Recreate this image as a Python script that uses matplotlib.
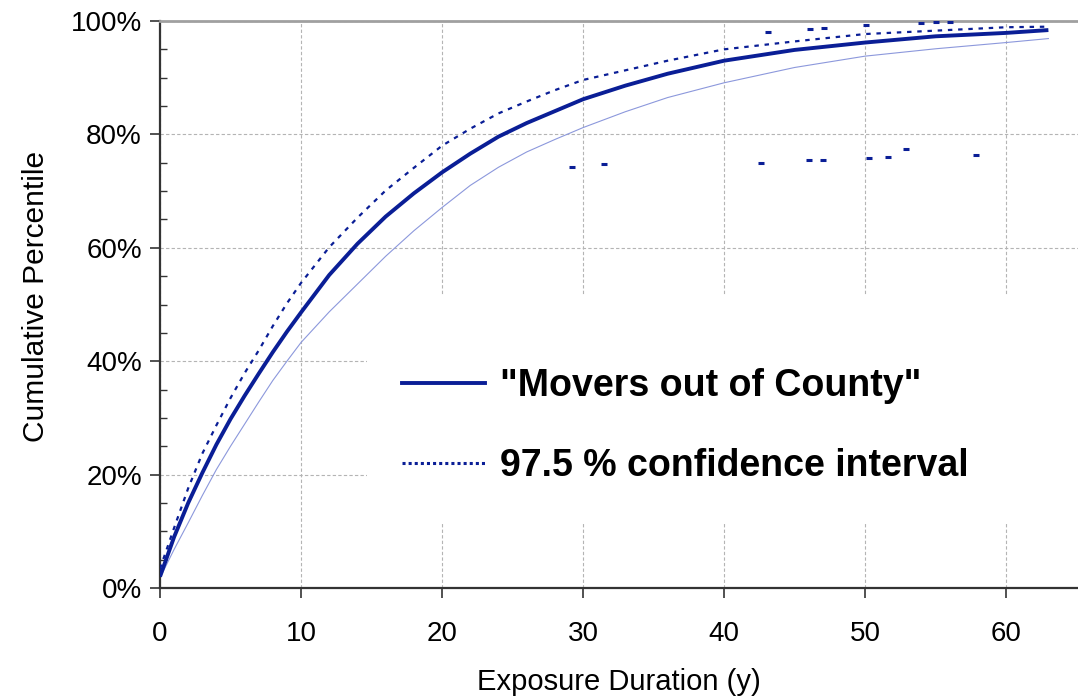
import matplotlib
matplotlib.use("Agg")
import matplotlib.pyplot as plt
from matplotlib.lines import Line2D
from matplotlib.patches import Rectangle
from matplotlib.ticker import MultipleLocator, FuncFormatter

plt.rcParams['font.family'] = ['Liberation Sans', 'DejaVu Sans']

# Exposure duration (years)
duration = [0, 1, 2, 3, 4, 5, 6, 7, 8, 9, 10, 12, 14, 16, 18, 20, 22, 24, 26, 28,
            30, 33, 36, 40, 45, 50, 55, 60, 63]
# Cumulative percentile (%) - "Movers out of County"
movers = [2.0, 9.0, 15.0, 20.3, 25.3, 29.8, 33.9, 37.8, 41.6, 45.2, 48.6, 55.2, 60.7,
          65.5, 69.6, 73.3, 76.6, 79.6, 82.0, 84.1, 86.2, 88.6, 90.7, 93.0, 94.9,
          96.2, 97.3, 97.9, 98.4]
# Upper 97.5 % confidence bound
upper_ci = [3.4, 10.6, 17.6, 23.7, 28.7, 33.5, 37.9, 41.9, 46.2, 50.2, 53.8, 60.1, 65.3,
            70.1, 74.1, 78.0, 81.0, 83.7, 85.8, 87.8, 89.6, 91.3, 93.0, 95.0, 96.4,
            97.7, 98.3, 98.9, 99.0]
# Lower 97.5 % confidence bound
lower_ci = [1.8, 6.8, 11.5, 16.3, 20.9, 25.0, 28.9, 32.8, 36.6, 40.0, 43.3, 48.7, 53.6,
            58.5, 63.0, 67.1, 71.0, 74.2, 76.9, 79.1, 81.2, 84.0, 86.5, 89.1, 91.8,
            93.8, 95.1, 96.2, 96.9]
# Stray marks visible in the chart
stray_x = [43.1, 46.1, 47.1, 50.1, 54.0, 55.0, 56.0,
           29.2, 31.5, 42.6, 46.0, 47.0, 50.3, 51.6, 52.9, 57.9]
stray_y = [98.1, 98.6, 98.8, 99.3, 99.7, 99.8, 99.8,
           74.3, 74.8, 74.9, 75.5, 75.5, 75.8, 76.0, 77.4, 76.4]

x_ticks = [0, 10, 20, 30, 40, 50, 60]
y_ticks = [0, 20, 40, 60, 80, 100]
legend_labels = ['"Movers out of County"', '97.5 % confidence interval']

BLUE = '#0a1e96'
LIGHT = '#8c98dc'

fig = plt.figure(figsize=(10.78, 6.98), dpi=100)
ax = fig.add_axes([160 / 1078, 1 - 588 / 698, 918 / 1078, 567 / 698])

ax.set_xlim(0, 65.1)
ax.set_ylim(0, 100)
ax.set_axisbelow(True)
ax.grid(True, which='major', color='#b4b4b4', linestyle=(0, (3, 2)), linewidth=0.8)

ax.plot(duration, lower_ci, color=LIGHT, linewidth=0.8, zorder=2)
ax.plot(duration, upper_ci, color=BLUE, linewidth=1.6, linestyle=(0, (2, 2.6)), zorder=3)
ax.plot(duration, movers, color=BLUE, linewidth=2.8, zorder=4, solid_capstyle='butt')
ax.plot(stray_x, stray_y, linestyle='none', marker='_', markersize=5,
        markeredgewidth=2.2, color=BLUE, zorder=3)

# white legend area covering the grid
ax.add_patch(Rectangle((207 / 918, 66 / 567), 1 - 207 / 918, (522 - 295) / 567,
                       transform=ax.transAxes, facecolor='white', edgecolor='none',
                       zorder=1))

handles = [Line2D([], [], color=BLUE, linewidth=2.8),
           Line2D([], [], color=BLUE, linewidth=2.2, linestyle=(0, (1.0, 1.0)))]
leg = ax.legend(handles, legend_labels, loc='upper left',
                bbox_to_anchor=(402 / 1078, 1 - 368 / 698), bbox_transform=fig.transFigure,
                frameon=False, borderpad=0, borderaxespad=0,
                handlelength=2.2, handletextpad=0.4, labelspacing=1.17,
                prop={'family': 'Liberation Sans', 'weight': 'bold', 'size': 27})

ax.set_xticks(x_ticks)
ax.set_yticks(y_ticks)
ax.yaxis.set_minor_locator(MultipleLocator(5))
ax.yaxis.set_major_formatter(FuncFormatter(lambda v, p: f'{int(v)}%'))
ax.tick_params(axis='both', which='major', labelsize=20, direction='out', length=7,
               width=1.2, color='#333333')
ax.tick_params(axis='y', which='minor', direction='in', length=5, width=1.0, color='#333333')
ax.tick_params(axis='x', which='major', pad=17)
ax.tick_params(axis='y', which='major', pad=6)

ax.spines['right'].set_visible(False)
ax.spines['top'].set_color('#a0a0a0')
ax.spines['top'].set_linewidth(2.0)
ax.spines['left'].set_color('#333333')
ax.spines['left'].set_linewidth(1.6)
ax.spines['bottom'].set_color('#333333')
ax.spines['bottom'].set_linewidth(1.6)

ax.set_xlabel('Exposure Duration (y)', fontsize=21, labelpad=15)
ax.set_ylabel('Cumulative Percentile', fontsize=21.5)
ax.yaxis.set_label_coords(-0.12, 0.515)

fig.savefig('out.png', dpi=100)
